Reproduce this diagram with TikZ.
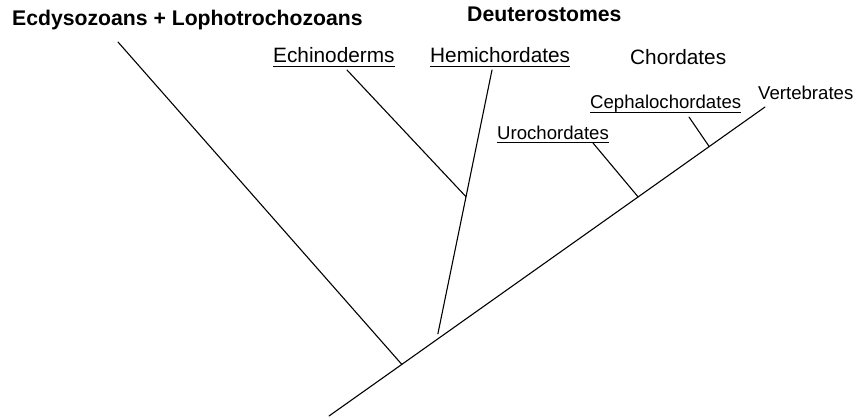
\documentclass[tikz,border=0pt]{standalone}
\usepackage{fontspec}
\setmainfont{Liberation Sans}
\usepackage{tikz}
\usetikzlibrary{calc}
\tikzset{
  groupname/.style={anchor=base west,inner sep=0pt,font=\bfseries\fontsize{21.2}{23}\selectfont},
  cladename/.style={anchor=base west,inner sep=0pt,font=\fontsize{20.8}{22}\selectfont},
  subclade/.style={anchor=base west,inner sep=0pt,font=\fontsize{18.6}{20}\selectfont},
  ul/.style={append after command={([yshift=-3.5pt]\tikzlastnode.base west) edge[line width=0.9pt] ([yshift=-3.5pt]\tikzlastnode.base east)}},
  branch/.style={line width=1.1pt,draw=black,line cap=round}
}
\begin{document}
\begin{tikzpicture}[x=1pt,y=-1pt]
\useasboundingbox (0,0) rectangle (860,416);
% group and clade labels
\node[groupname] (protost) at (12,25.5) {Ecdysozoans + Lophotrochozoans};
\node[groupname] (deutero) at (467,21.5) {Deuterostomes};
\node[cladename,ul] (echino) at (273,62.5) {Echinoderms};
\node[cladename,ul] (hemi) at (430,62.5) {Hemichordates};
\node[cladename] (chord) at (630,64.5) {Chordates};
\node[subclade,ul] (cephalo) at (590,108.5) {Cephalochordates};
\node[subclade,ul] (uro) at (497,139) {Urochordates};
\node[subclade] (verte) at (758,99.5) {Vertebrates};
% tips of the branches
\coordinate (root) at (329,416);
\coordinate (vtip) at (765,107);
\coordinate (prottip) at (118,42);
\coordinate (echtip) at (347,70);
\coordinate (hemtip) at (492,70);
\coordinate (urotip) at (593,143);
\coordinate (ceptip) at (689,117);
% junctions
\coordinate (jprot) at ($(root)!0.167!(vtip)$);
\coordinate (jdeut) at ($(root)!0.247!(vtip)$);
\coordinate (juro) at ($(root)!0.709!(vtip)$);
\coordinate (jceph) at ($(root)!0.872!(vtip)$);
\coordinate (jech) at ($(jdeut)!0.53!(hemtip)$);
% tree
\draw[branch] (root) -- (vtip);
\draw[branch] (jprot) -- (prottip);
\draw[branch,shorten <=6pt] (jdeut) -- (hemtip);
\draw[branch] (jech) -- (echtip);
\draw[branch] (juro) -- (urotip);
\draw[branch] (jceph) -- (ceptip);
\end{tikzpicture}
\end{document}
